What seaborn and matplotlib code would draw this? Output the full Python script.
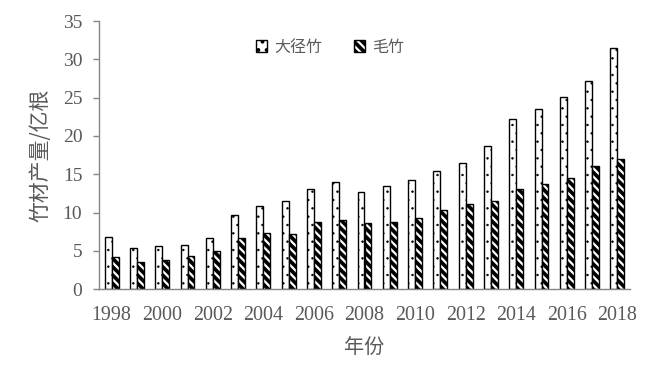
import matplotlib
matplotlib.use("Agg")
import matplotlib.pyplot as plt
import seaborn as sns
import pandas as pd
import numpy as np

years = [str(y) for y in range(1998, 2019)]
large_bamboo = [6.86, 5.39, 5.6, 5.82, 6.69, 9.73, 10.9, 11.47, 13.08, 13.95, 12.65,
                13.5, 14.3, 15.39, 16.47, 18.74, 22.2, 23.56, 25.08, 27.13, 31.43]
moso_bamboo = [4.21, 3.56, 3.82, 4.34, 5.0, 6.69, 7.39, 7.26, 8.78, 9.0, 8.69,
               8.78, 9.3, 10.3, 11.17, 11.47, 13.13, 13.7, 14.56, 16.08, 16.95]
series_names = ["大径竹", "毛竹"]
y_ticks = [0, 5, 10, 15, 20, 25, 30, 35]

df = pd.DataFrame({
    "year": years * 2,
    "value": large_bamboo + moso_bamboo,
    "type": [series_names[0]] * len(years) + [series_names[1]] * len(years),
})

sns.set_theme(style="white")
plt.rcParams["hatch.linewidth"] = 1.6
gray = "#595959"
cjk = ["Noto Sans CJK SC", "DejaVu Sans"]
serif = ["Liberation Serif", "DejaVu Serif"]

fig = plt.figure(figsize=(6.54, 3.76), dpi=100)
ax = fig.add_axes([99 / 654, 1 - 289.3 / 376, 531 / 654, 268.3 / 376])

sns.barplot(data=df, x="year", y="value", hue="type", order=years,
            hue_order=series_names, palette=["white", "black"], width=0.55,
            edgecolor="black", linewidth=1.0, saturation=1, legend=False, ax=ax)

for p in ax.containers[0]:
    p.set_facecolor("white")
    p.set_edgecolor("black")
    p.set_hatch("..")
    p._hatch_linewidth = 0.5
for p in ax.containers[1]:
    p.set_facecolor("black")
    p.set_edgecolor("black")
    p.set_hatch("\\\\\\\\")
    p._hatch_color = (1.0, 1.0, 1.0, 1.0)
    p._hatch_linewidth = 1.6

ax.set_xlim(-0.5, len(years) - 0.5)
ax.set_ylim(0, 35)
ax.set_yticks(y_ticks)
ax.set_yticklabels([str(t) for t in y_ticks], fontfamily=serif, fontsize=14, color=gray)
major = list(range(0, len(years), 2))
ax.set_xticks(major)
ax.set_xticklabels([years[i] for i in major], fontfamily=serif, fontsize=14.4, color=gray)
ax.set_xticks([3.5, 7.5, 11.5, 15.5, 19.5], minor=True)
ax.tick_params(axis="x", which="major", length=0, pad=12)
ax.tick_params(axis="x", which="minor", direction="in", length=5, width=1, color="#868686")
ax.tick_params(axis="y", which="major", direction="out", length=4, width=1, color="#868686", left=True, pad=8)

for s in ["top", "right"]:
    ax.spines[s].set_visible(False)
for s in ["left", "bottom"]:
    ax.spines[s].set_color("#868686")
    ax.spines[s].set_linewidth(1.0)

ax.set_xlabel("年份", fontfamily=cjk, fontsize=14.5, color=gray, labelpad=9)
ax.set_ylabel("竹材产量/亿根", fontfamily=cjk, fontsize=15, color=gray, labelpad=8)

leg = ax.legend(ax.containers, series_names, loc="center", bbox_to_anchor=(0.435, 0.903),
                ncol=2, frameon=False, prop={"family": cjk, "size": 11.5},
                handlelength=0.7, handleheight=0.7, handletextpad=0.45, columnspacing=2.0)
for t in leg.get_texts():
    t.set_color(gray)

fig.savefig("out.png", dpi=100)
